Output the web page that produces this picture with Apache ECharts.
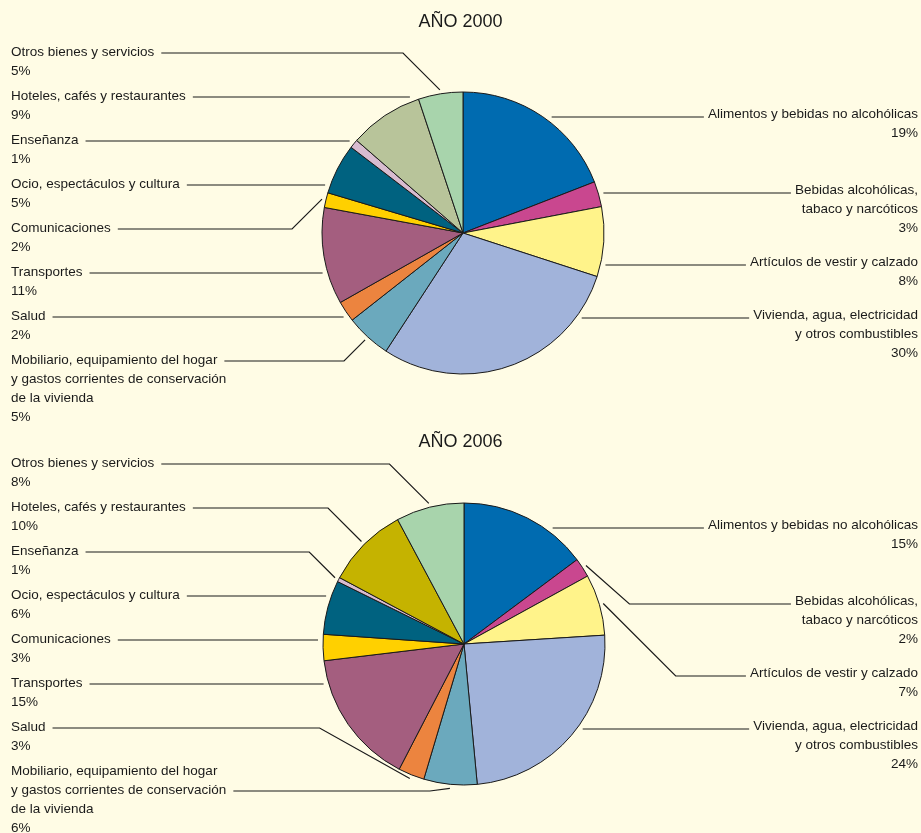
<!DOCTYPE html>
<html><head><meta charset="utf-8">
<script src="https://cdn.jsdelivr.net/npm/echarts@6/dist/echarts.min.js"></script>
<style>html,body{margin:0;padding:0;background:#FFFCE5}#c{width:921px;height:833px}</style>
</head><body><div id="c"></div>
<script>
// ---- data ----
const categories = [
  'Alimentos y bebidas no alcohólicas',
  'Bebidas alcohólicas,\ntabaco y narcóticos',
  'Artículos de vestir y calzado',
  'Vivienda, agua, electricidad\ny otros combustibles',
  'Mobiliario, equipamiento del hogar\ny gastos corrientes de conservación\nde la vivienda',
  'Salud',
  'Transportes',
  'Comunicaciones',
  'Ocio, espectáculos y cultura',
  'Enseñanza',
  'Hoteles, cafés y restaurantes',
  'Otros bienes y servicios'
];
const years = ['AÑO 2000', 'AÑO 2006'];
const values2000 = [19.1, 2.9, 8.0, 29.2, 5.2, 2.4, 11.1, 1.7, 5.8, 1.0, 8.5, 5.1];
const values2006 = [14.8, 2.2, 7.0, 24.5, 6.1, 3.0, 15.5, 3.0, 6.2, 0.5, 9.4, 7.8];
const pct2000 = [19, 3, 8, 30, 5, 2, 11, 2, 5, 1, 9, 5];
const pct2006 = [15, 2, 7, 24, 6, 3, 15, 3, 6, 1, 10, 8];

// ---- styles / layout ----
const colors2000 = ['#006BB0','#C9478F','#FFF38A','#A1B3DA','#6BA9BD','#EC843F','#A45E7F','#FFD000','#006280','#D8BCD0','#B8C49A','#A8D4AC'];
const colors2006 = ['#006BB0','#C9478F','#FFF38A','#A1B3DA','#6BA9BD','#EC843F','#A45E7F','#FFD000','#006280','#D8BCD0','#C5B300','#A8D4AC'];
const FONT = '"Liberation Sans", Arial, sans-serif';
const FS = 13.5, LH = 19;
const centers = [[463, 233], [464, 644]];
const RADIUS = 141;
const RIGHT_COUNT = 4;
const rightOffsets = [-119, -43, 29, 82];
const LEFT_TOP = -181, LEFT_STEP = 44;
const LEFT_X = 11, RIGHT_X = 918;
const INK = '#1a1a1a';

const seriesValues = [values2000, values2006];
const seriesPct = [pct2000, pct2006];
const seriesColors = [colors2000, colors2006];

const mctx = document.createElement('canvas').getContext('2d');
mctx.font = FS + 'px ' + FONT;
function measure(t) { return mctx.measureText(t).width; }

function segOutside(cx, cy, p, q, minR) {
  for (let t = 0.2; t < 1; t += 0.05) {
    const x = p[0] + (q[0] - p[0]) * t, y = p[1] + (q[1] - p[1]) * t;
    if (Math.hypot(x - cx, y - cy) < minR) return false;
  }
  return true;
}

function makeLayout(s) {
  const vals = seriesValues[s];
  const cx = centers[s][0], cy = centers[s][1];
  const total = vals.reduce((a, b) => a + b, 0);
  const starts = []; let acc = 0;
  vals.forEach(v => { starts.push(acc / total * 360); acc += v; });
  return function (p) {
    const i = p.dataIndex;
    const a0 = starts[i], a1 = a0 + vals[i] / total * 360;
    const right = i < RIGHT_COUNT;
    const sgn = right ? 1 : -1;
    let anchorY, x, align;
    if (right) { anchorY = cy + rightOffsets[i]; x = RIGHT_X; align = 'right'; }
    else { anchorY = cy + LEFT_TOP + (vals.length - 1 - i) * LEFT_STEP; x = LEFT_X; align = 'left'; }
    const lines = categories[i].split('\n');
    const R = RADIUS + 5;
    let pts = null;
    // straight leader if the label row meets its own slice
    {
      const lineY = anchorY + (right ? 3 : 1);
      const w = measure(lines[0]);
      const textEndX = right ? x - w - 4 : x + w + 7;
      const dy = lineY - cy;
      if (Math.abs(dy) < R) {
        const dx = Math.sqrt(R * R - dy * dy) * sgn;
        let ang = Math.atan2(dx, -dy) * 180 / Math.PI; if (ang < 0) ang += 360;
        if (ang >= a0 && ang <= a1) pts = [[cx + dx, lineY], [(cx + dx + textEndX) / 2, lineY], [textEndX, lineY]];
      }
    }
    if (!pts) {
      const m = (a0 + a1) / 2 * Math.PI / 180;
      const ex = cx + (RADIUS + 4) * Math.sin(m), ey = cy - (RADIUS + 4) * Math.cos(m);
      for (let k = 0; k < lines.length; k++) {
        const lineY = anchorY + k * LH + (right ? 3 : 1);
        const w = measure(lines[k]);
        const textEndX = right ? x - w - 4 : x + w + 7;
        const off = Math.max(20, Math.abs(ey - lineY));
        let bx = ex + sgn * off;
        const dy = lineY - cy;
        if (Math.abs(dy) < R) {
          const circX = cx + sgn * Math.sqrt(R * R - dy * dy);
          bx = right ? Math.max(bx, circX + 25) : Math.min(bx, circX - 25);
        }
        const cand = [[ex, ey], [bx, lineY], [textEndX, lineY]];
        pts = cand;
        if (segOutside(cx, cy, cand[0], cand[1], RADIUS + 4.5)) break;
      }
    }
    return { x: x, y: anchorY - LH / 2, align: align, verticalAlign: 'top', labelLinePoints: pts };
  };
}

function makeSeries(s) {
  return {
    type: 'pie',
    center: centers[s],
    radius: RADIUS,
    startAngle: 90,
    clockwise: true,
    avoidLabelOverlap: false,
    animation: false,
    silent: true,
    data: categories.map((c, i) => ({
      name: c, value: seriesValues[s][i],
      itemStyle: { color: seriesColors[s][i] }
    })),
    itemStyle: { borderColor: INK, borderWidth: 1 },
    label: {
      show: true, position: 'outside', overflow: 'none',
      formatter: p => p.name + '\n' + seriesPct[s][p.dataIndex] + '%',
      color: INK, fontFamily: FONT, fontSize: FS, lineHeight: LH
    },
    labelLine: { show: true, lineStyle: { color: INK, width: 1.2 } },
    labelLayout: makeLayout(s)
  };
}

const chart = echarts.init(document.getElementById('c'), null, { renderer: 'canvas' });
chart.setOption({
  backgroundColor: '#FFFCE5',
  animation: false,
  title: [
    { text: years[0], left: 'center', top: 13, padding: 0, textStyle: { fontFamily: FONT, fontSize: 18, fontWeight: 'normal', color: INK } },
    { text: years[1], left: 'center', top: 433, padding: 0, textStyle: { fontFamily: FONT, fontSize: 18, fontWeight: 'normal', color: INK } }
  ],
  series: [makeSeries(0), makeSeries(1)]
});
</script>
</body></html>
